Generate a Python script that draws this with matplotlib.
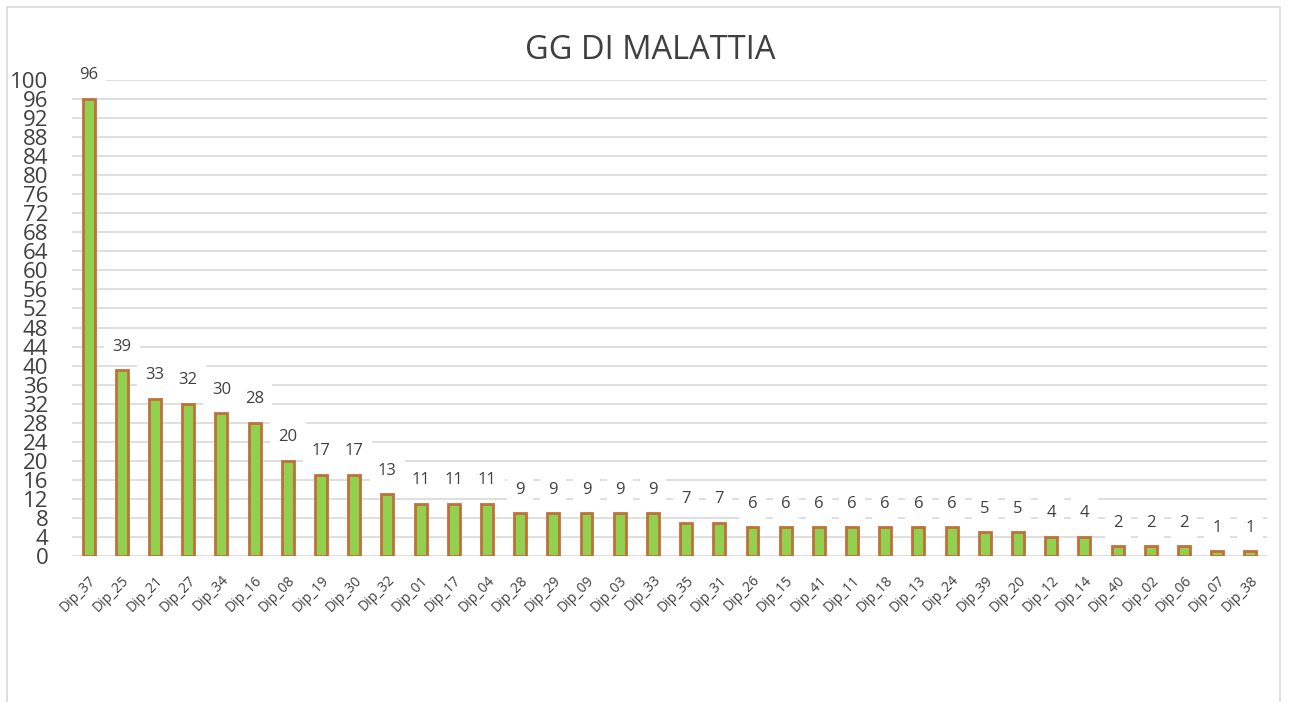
import matplotlib
matplotlib.use("Agg")
import matplotlib.pyplot as plt
from matplotlib.patches import Rectangle

categories = ["Dip_37", "Dip_25", "Dip_21", "Dip_27", "Dip_34", "Dip_16", "Dip_08", "Dip_19",
              "Dip_30", "Dip_32", "Dip_01", "Dip_17", "Dip_04", "Dip_28", "Dip_29", "Dip_09",
              "Dip_03", "Dip_33", "Dip_35", "Dip_31", "Dip_26", "Dip_15", "Dip_41", "Dip_11",
              "Dip_18", "Dip_13", "Dip_24", "Dip_39", "Dip_20", "Dip_12", "Dip_14", "Dip_40",
              "Dip_02", "Dip_06", "Dip_07", "Dip_38"]
values = [96, 39, 33, 32, 30, 28, 20, 17, 17, 13, 11, 11, 11, 9, 9, 9, 9, 9, 7, 7,
          6, 6, 6, 6, 6, 6, 6, 5, 5, 4, 4, 2, 2, 2, 1, 1]
y_ticks = list(range(0, 100, 4)) + [100]

plt.rcParams['font.family'] = ['Open Sans', 'DejaVu Sans']

fig = plt.figure(figsize=(12.92, 7.02), dpi=100)
fig.patches.append(Rectangle((7 / 1292, -0.01), 1273 / 1292, 1 - 7 / 702 + 0.01,
                             transform=fig.transFigure, fill=False,
                             edgecolor="#d9d9d9", linewidth=1.2))

ax = fig.add_axes([72 / 1292, 146 / 702, 1195 / 1292, 476 / 702])
x = list(range(len(categories)))
ax.bar(x, values, width=0.36, color="#92D050", edgecolor="#C0703A", linewidth=2, zorder=3)

for xi, v in zip(x, values):
    ax.annotate(str(v), (xi, v), xytext=(0, 17), textcoords="offset points",
                ha="center", va="center", fontsize=12, color="#404040", zorder=4,
                bbox=dict(boxstyle="square,pad=0.5", facecolor="white", edgecolor="none"))

ax.set_xlim(-0.5, len(categories) - 0.5)
ax.set_ylim(0, 100)
ax.set_yticks(y_ticks)
ax.set_yticklabels([str(t) for t in y_ticks], fontsize=16, color="#404040")
ax.set_xticks(x)
ax.set_xticklabels(categories, rotation=45, ha="right", rotation_mode="anchor",
                   fontsize=10, color="#404040")
ax.tick_params(axis="y", length=0, pad=17)
ax.tick_params(axis="x", length=0, pad=12)
ax.yaxis.grid(True, color="#d9d9d9", linewidth=1.2, zorder=0)
ax.set_axisbelow(True)
for s in ax.spines.values():
    s.set_visible(False)

fig.text(0.503, 0.928, "GG DI MALATTIA", ha="center", va="center", fontsize=23.5, color="#404040")

fig.savefig("out.png", dpi=100)
